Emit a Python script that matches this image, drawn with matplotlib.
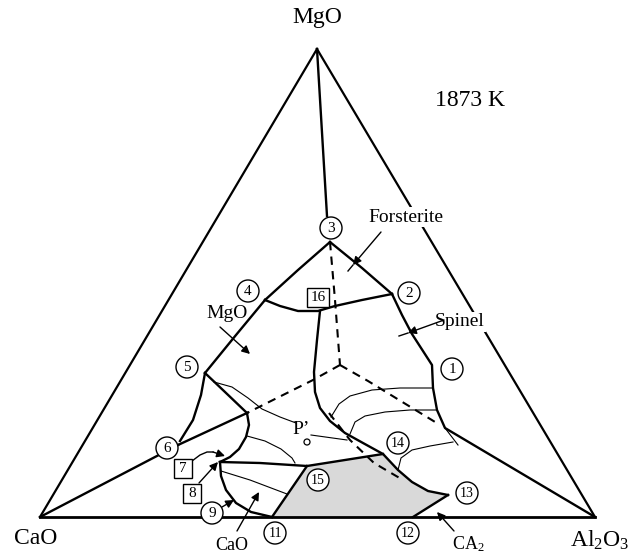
import matplotlib
matplotlib.use("Agg")
import matplotlib.pyplot as plt
import numpy as np
from matplotlib.patches import Circle, Rectangle, Polygon

plt.rcParams['font.family'] = ['Liberation Serif', 'DejaVu Serif']
plt.rcParams['mathtext.default'] = 'regular'
plt.rcParams['hatch.color'] = '#7a7a7a'
plt.rcParams['hatch.linewidth'] = 0.8

# corners of the composition triangle (drawing units, y grows downward)
apex_mgo = (317, 49)
corner_cao = (40, 517)
corner_al2o3 = (595, 517)

# invariant points and boundary curves
pt3 = (330, 242)
pt4 = (265, 300)
pt2 = (392, 294)
pt5 = (205, 373)
pt_c = (340, 365)
pt_j = (247, 413)

curve_3_4 = [pt3, (298, 270), pt4]
curve_3_2 = [pt3, (362, 268), pt2]
curve_4_5 = [pt4, (236, 335), pt5]
curve_4_16_2 = [pt4, (280, 306), (298, 311), (318, 311), (335, 306), (362, 300), pt2]
curve_16_13 = [(320, 311), (317, 340), (314, 372), (315, 392), (320, 408), (330, 421),
               (345, 433), (363, 443), (383, 454), (398, 470), (412, 482), (428, 491), (448, 495)]
curve_2_1 = [pt2, (402, 315), (412, 334), (432, 365), (433, 388), (437, 410), (445, 428), corner_al2o3]
curve_5_6 = [pt5, (201, 395), (193, 420), (180, 441)]
curve_6_j = [(178, 445), pt_j]
curve_5_j = [pt5, (225, 392), pt_j]
curve_c = [pt_j, (249, 425), (246, 437), (239, 449), (230, 457), (220, 462)]
curve_top = [(220, 462), (260, 463), (307, 466), (383, 454)]
curve_cao = [(220, 462), (221, 476), (226, 490), (236, 503), (251, 512), (272, 517)]
line_15_11 = [(307, 466), (272, 517)]
line_12_13 = [(413, 517), (448, 495)]
tie_top = [apex_mgo, (327, 216)]
tie_6 = [corner_cao, (178, 445)]

# CA2 primary field (shaded)
ca2_field = [(307, 466), (272, 517), (413, 517), (448, 495), (428, 491), (412, 482),
             (398, 470), (383, 454)]

# isolines
iso_a = [(214, 382), (232, 387), (248, 398), (262, 409), (280, 417), (296, 423)]
iso_b = [(247, 436), (265, 441), (281, 449), (292, 458), (295, 463)]
iso_c = [(221, 471), (250, 480), (287, 494)]
iso_d = [(331, 417), (339, 404), (350, 396), (372, 390), (400, 388), (433, 388)]
iso_e = [(350, 434), (355, 422), (365, 416), (385, 412), (410, 410), (436, 410)]
iso_f = [(398, 470), (401, 458), (412, 450), (430, 446), (453, 442)]
tick_1 = [(445, 428), (458, 445)]

# dashed construction lines
dash_a = [pt3, (335, 300), pt_c]
dash_b = [pt_c, (313, 380), pt_j]
dash_c = [pt_c, (368, 381), (440, 425)]
dash_d = [(329, 413), (350, 440), (374, 463), (403, 480)]

# numbered points: label, x, y
circled = [("1", 452, 369), ("2", 409, 293), ("3", 331, 228), ("4", 248, 291),
           ("5", 187, 367), ("6", 167, 448), ("9", 212, 513), ("11", 275, 533),
           ("12", 408, 533), ("13", 467, 493), ("14", 398, 443), ("15", 318, 480)]
boxed = [("7", 183, 468, 18, 19), ("8", 192, 493, 18, 19), ("16", 318, 297, 22, 19)]

fig = plt.figure(figsize=(6.37, 5.55), dpi=100)
ax = fig.add_axes([0, 0, 1, 1])
ax.set_xlim(0, 637)
ax.set_ylim(555, 0)
ax.axis('off')

# shaded field first
ax.add_patch(Polygon(ca2_field, closed=True, facecolor='#d9d9d9', edgecolor='none',
                     hatch='....', zorder=1))

# triangle
for a, b in [(apex_mgo, corner_cao), (apex_mgo, corner_al2o3)]:
    ax.plot([a[0], b[0]], [a[1], b[1]], color='black', lw=1.6, zorder=2)
ax.plot([corner_cao[0], corner_al2o3[0]], [corner_cao[1], corner_al2o3[1]],
        color='black', lw=2.0, zorder=2)

for c in [tie_top, tie_6, curve_3_4, curve_3_2, curve_4_5, curve_4_16_2, curve_16_13,
          curve_2_1, curve_5_6, curve_6_j, curve_5_j, curve_c, curve_top, curve_cao,
          line_15_11, line_12_13]:
    p = np.array(c)
    ax.plot(p[:, 0], p[:, 1], color='black', lw=1.7, zorder=3)

for c in [iso_a, iso_b, iso_c, iso_d, iso_e, iso_f, tick_1]:
    p = np.array(c)
    ax.plot(p[:, 0], p[:, 1], color='black', lw=0.8, zorder=3)

for c in [dash_a, dash_b, dash_c, dash_d]:
    p = np.array(c)
    ax.plot(p[:, 0], p[:, 1], color='black', lw=1.5, ls=(0, (4, 3)), zorder=3)

for lab, x, y in circled:
    ax.add_patch(Circle((x, y), 11, facecolor='white', edgecolor='black', lw=1.0, zorder=4))
    ax.text(x, y + 0.5, lab, ha='center', va='center', zorder=5,
            fontsize=11 if len(lab) == 1 else 10)

for lab, x, y, w, h in boxed:
    ax.add_patch(Rectangle((x - w / 2, y - h / 2), w, h, facecolor='white', edgecolor='black',
                           lw=1.0, zorder=4))
    ax.text(x, y + 0.5, lab, ha='center', va='center', fontsize=11, zorder=5)

# P' point
ax.add_patch(Circle((307, 442), 3, facecolor='white', edgecolor='black', lw=0.9, zorder=4))
ax.text(301, 429, "P’", ha='center', va='center', fontsize=14, zorder=5)
ax.plot([311, 347], [435, 440], color='black', lw=0.8, zorder=3)

# corner and field labels
ax.text(317, 18, "MgO", ha='center', va='center', fontsize=17)
ax.text(470, 101, "1873 K", ha='center', va='center', fontsize=17)
ax.text(36, 538, "CaO", ha='center', va='center', fontsize=17)
ax.text(600, 540, "Al$_2$O$_3$", ha='center', va='center', fontsize=17)
white = dict(facecolor='white', edgecolor='none', pad=1)
ax.text(406, 217, "Forsterite", ha='center', va='center', fontsize=14, bbox=white, zorder=4)
ax.text(460, 322, "Spinel", ha='center', va='center', fontsize=14, bbox=white, zorder=4)
ax.text(227, 313, "MgO", ha='center', va='center', fontsize=14)
ax.text(232, 546, "CaO", ha='center', va='center', fontsize=13)
ax.text(468, 544, "CA$_2$", ha='center', va='center', fontsize=13)

arrow = dict(arrowstyle='-|>', color='black', lw=1.0, mutation_scale=12, shrinkA=0, shrinkB=0)
ax.annotate("", xy=(250, 354), xytext=(220, 327), arrowprops=arrow, zorder=5)
ax.annotate("", xy=(353, 265), xytext=(381, 232), arrowprops=arrow, zorder=5)
ax.plot([353, 348], [265, 271], color='black', lw=1.0)
ax.annotate("", xy=(408, 333), xytext=(444, 320), arrowprops=arrow, zorder=5)
ax.plot([408, 399], [333, 336], color='black', lw=1.0)
ax.annotate("", xy=(259, 492), xytext=(237, 531), arrowprops=arrow, zorder=5)
ax.annotate("", xy=(437, 512), xytext=(454, 531), arrowprops=arrow, zorder=5)
ax.annotate("", xy=(234, 500), xytext=(222, 507), arrowprops=arrow, zorder=5)
ax.annotate("", xy=(218, 462), xytext=(199, 483), arrowprops=arrow, zorder=5)
ax.plot([192, 200, 207, 213], [461, 455, 452, 452], color='black', lw=1.0)
ax.annotate("", xy=(225, 456), xytext=(213, 452), arrowprops=arrow, zorder=5)

fig.savefig("out.png", dpi=100, facecolor='white')
